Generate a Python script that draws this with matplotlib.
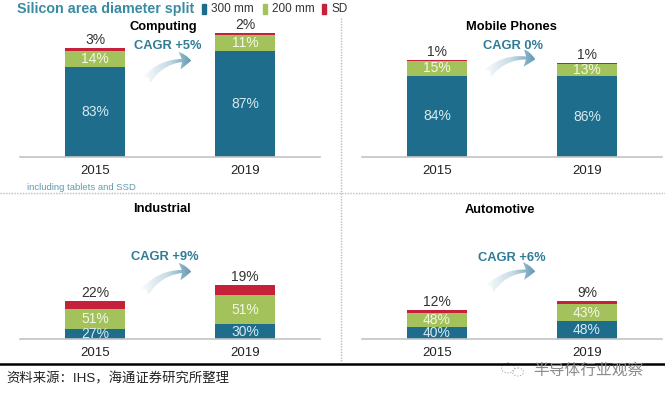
import matplotlib
matplotlib.use("Agg")
import matplotlib.pyplot as plt
import numpy as np
from matplotlib.patches import FancyArrowPatch, Ellipse
from matplotlib.colors import LinearSegmentedColormap

plt.rcParams['font.family'] = ['Liberation Sans', 'Noto Sans CJK SC', 'DejaVu Sans']

# data: bar segment heights (relative silicon area) and their share labels
years = ['2015', '2019']
panels = ['Computing', 'Mobile Phones', 'Industrial', 'Automotive']
cagr = ['CAGR +5%', 'CAGR 0%', 'CAGR +9%', 'CAGR +6%']

area_300 = [[90.0, 106.0], [81.3, 80.7], [9.7, 15.0], [11.7, 17.7]]
area_200 = [[15.7, 15.7], [14.5, 12.7], [20.0, 29.0], [14.3, 17.3]]
area_sd = [[3.0, 2.7], [1.3, 0.7], [8.7, 9.7], [3.0, 3.0]]

pct_300 = [['83%', '87%'], ['84%', '86%'], ['27%', '30%'], ['40%', '48%']]
pct_200 = [['14%', '11%'], ['15%', '13%'], ['51%', '51%'], ['48%', '43%']]
pct_sd = [['3%', '2%'], ['1%', '1%'], ['22%', '19%'], ['12%', '9%']]

c300 = '#1F6D8C'
c200 = '#A3C25B'
csd = '#C6213B'

W, H = 665, 399
fig = plt.figure(figsize=(W / 100, H / 100), dpi=100)

# axes rectangles in pixels: left, baseline(y from top), top(y from top)
boxes = [(20, 157, 20), (362, 157, 20), (20, 339, 200), (362, 339, 200)]
x = np.arange(len(years))

for i, (lx, base, top) in enumerate(boxes):
    ax = fig.add_axes([lx / W, (H - base) / H, 300 / W, (base - top) / H])
    b3 = np.array(area_300[i])
    b2 = np.array(area_200[i])
    bs = np.array(area_sd[i])
    ax.bar(x, b3, width=0.4, color=c300)
    ax.bar(x, b2, width=0.4, bottom=b3, color=c200)
    ax.bar(x, bs, width=0.4, bottom=b3 + b2, color=csd)
    for j in range(len(years)):
        ax.text(x[j], b3[j] / 2, pct_300[i][j], ha='center', va='center',
                fontsize=10, color='#D6EAF1')
        ax.text(x[j], b3[j] + b2[j] / 2, pct_200[i][j], ha='center', va='center',
                fontsize=10, color='#F4F7E4')
        ax.text(x[j], b3[j] + b2[j] + bs[j] + 1.0, pct_sd[i][j], ha='center',
                va='bottom', fontsize=10, color='#333333')
    ax.set_xlim(-0.5, 1.5)
    ax.set_ylim(0, base - top)
    ax.set_xticks(x)
    ax.set_xticklabels(years, fontsize=9.5, color='#222222')
    ax.tick_params(axis='x', length=0, pad=6)
    ax.set_yticks([])
    for s in ['top', 'left', 'right']:
        ax.spines[s].set_visible(False)
    ax.spines['bottom'].set_color('#C4C4C4')
    ax.spines['bottom'].set_linewidth(1.2)
    ax.patch.set_alpha(0)

# overlay in pixel coordinates for titles, arrows and notes
ov = fig.add_axes([0, 0, 1, 1], zorder=-1)
ov.set_xlim(0, W)
ov.set_ylim(H, 0)
ov.axis('off')

ov.text(17, 9, 'Silicon area diameter split', fontsize=10.3, fontweight='bold',
        color='#3A8CA2', va='center')
for sx, col, lab in [(202, c300, '300 mm'), (263, c200, '200 mm'), (322, csd, 'SD')]:
    ov.add_patch(plt.Rectangle((sx, 4), 4, 10, color=col))
    ov.text(sx + 9, 9, lab, fontsize=8.5, color='#333333', va='center')

title_pos = [(163, 27), (511, 27), (162, 209), (500, 210)]
cagr_pos = [(168, 46), (513, 46), (165, 257), (512, 258)]
arrows = [((145, 82), (194, 61)), ((486, 75), (538, 60)),
          ((143, 294), (194, 272)), ((488, 291), (538, 272))]
for i in range(4):
    ov.text(*title_pos[i], panels[i], fontsize=9.3, fontweight='bold',
            color='black', ha='center', va='center')
    ov.text(*cagr_pos[i], cagr[i], fontsize=9.3, fontweight='bold',
            color='#2F7C96', ha='center', va='center')
    (x0, y0), (x1, y1) = arrows[i]
    arr = FancyArrowPatch((x0, y0), (x1, y1), connectionstyle='arc3,rad=-0.3',
                          arrowstyle='fancy,head_length=0.6,head_width=0.9,tail_width=0.5',
                          mutation_scale=14, lw=0, color='none')
    ov.add_patch(arr)
    cm = LinearSegmentedColormap.from_list('g', ['#FFFFFF', '#C5DAE4', '#4485A4'])
    grad = np.linspace(0, 1, 100).reshape(1, -1)
    im = ov.imshow(grad, cmap=cm, extent=(x0 - 4, x1 + 4, y0 + 8, y1 - 10),
                   aspect='auto', zorder=2)
    im.set_clip_path(arr)
ov.set_xlim(0, W)
ov.set_ylim(H, 0)

ov.text(27, 188, 'including tablets and SSD', fontsize=6.8, color='#5E9BB0',
        va='center')

# separators
ov.plot([0, W], [193, 193], color='#BBBBBB', lw=1, ls=(0, (1, 1)))
ov.plot([341, 341], [18, 362], color='#BBBBBB', lw=1, ls=(0, (1, 1)))
ov.plot([0, W], [364, 364], color='black', lw=1.8)

ov.text(6, 379, '资料来源：IHS，海通证券研究所整理', fontsize=9.6, color='#222222',
        va='center')
ov.add_patch(Ellipse((508, 368), 13, 10, fill=False, ec='#AAAAAA', lw=0.8, ls=':'))
ov.add_patch(Ellipse((518, 372), 11, 8, fill=False, ec='#AAAAAA', lw=0.8, ls=':'))
ov.text(533, 370, '半导体行业观察', fontsize=11.3, color='#8A8A8A', va='center')

fig.savefig('out.png', dpi=100)
